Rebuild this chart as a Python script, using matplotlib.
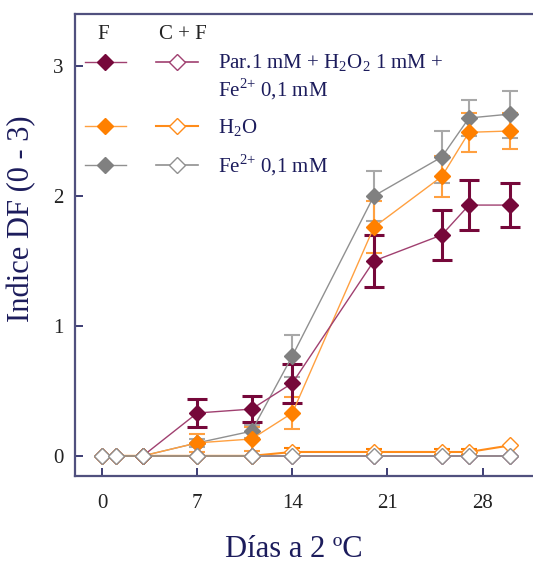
import numpy as np
import matplotlib.pyplot as plt
from matplotlib.legend_handler import HandlerTuple

plt.rcParams['font.family'] = ['Liberation Serif', 'DejaVu Serif']
plt.rcParams['mathtext.fontset'] = 'custom'
plt.rcParams['mathtext.rm'] = 'Liberation Serif'

# Days for the F series (filled) and the C + F series (open)
days_f = np.array([3, 7, 11, 14, 20, 25, 27, 30])
days_cf = np.array([0, 1, 3, 7, 11, 14, 20, 25, 27, 30])

# F series: mean and error
par_f = np.array([0, 0.33, 0.36, 0.56, 1.50, 1.70, 1.93, 1.93])
par_f_err = np.array([0, 0.11, 0.10, 0.15, 0.20, 0.19, 0.19, 0.17])
h2o_f = np.array([0, 0.10, 0.13, 0.33, 1.76, 2.15, 2.49, 2.50])
h2o_f_err = np.array([0, 0.07, 0.09, 0.12, 0.20, 0.16, 0.15, 0.14])
fe_f = np.array([0, 0.10, 0.19, 0.77, 2.00, 2.30, 2.60, 2.63])
fe_f_err = np.array([0, 0.03, 0.05, 0.16, 0.19, 0.20, 0.14, 0.18])

# C + F series
par_cf = np.array([0, 0, 0, 0, 0, 0, 0, 0, 0, 0])
h2o_cf = np.array([0, 0, 0, 0, 0, 0.03, 0.03, 0.03, 0.03, 0.08])
h2o_cf_err = np.array([0, 0, 0, 0, 0, 0.03, 0.02, 0.02, 0.02, 0])
fe_cf = np.array([0, 0, 0, 0, 0, 0, 0, 0, 0, 0])

xticks = [0, 7, 14, 21, 28]
yticks = [0, 1, 2, 3]

navy = '#1c1c5c'
spine_col = '#50507e'

# colours: (marker, line, errorbar)
par_col = ('#76083a', '#a04070', '#76083a')
h2o_col = ('#ff8000', '#ffa040', '#ffa040')
fe_col = ('#808080', '#909090', '#a8a8a8')


class RaisedTuple(HandlerTuple):
    # legend key lifted up so it sits on the first line of a two-line label
    def __init__(self, dy, **kw):
        super().__init__(**kw)
        self.dy = dy

    def create_artists(self, legend, orig_handle, xdescent, ydescent,
                       width, height, fontsize, trans):
        return super().create_artists(legend, orig_handle, xdescent,
                                      ydescent - 2 * self.dy, width, height,
                                      fontsize, trans)


def draw_filled(ax, x, y, err, cols, elw, cap):
    m = err > 0
    ax.errorbar(x[m], y[m], yerr=err[m], fmt='none', ecolor=cols[2],
                elinewidth=elw, capsize=cap, capthick=elw, zorder=2)
    h, = ax.plot(x, y, color=cols[1], lw=1, marker='D', ms=8,
                 mfc=cols[0], mec=cols[0], zorder=3)
    return h


def draw_open(ax, x, y, cols, lw=1.2):
    h, = ax.plot(x, y, color=cols[1], lw=lw, marker='D', ms=8,
                 mfc='white', mec=cols[1], mew=1, zorder=4)
    return h


fig = plt.figure(figsize=(5.33, 5.62), dpi=100)
ax = fig.add_axes([0.1407, 0.153, 0.859, 0.822])

h_fe_f = draw_filled(ax, days_f, fe_f, fe_f_err, fe_col, 1.5, 5.5)
h_h2o_f = draw_filled(ax, days_f, h2o_f, h2o_f_err, h2o_col, 1.5, 5.5)
h_par_f = draw_filled(ax, days_f, par_f, par_f_err, par_col, 2.2, 7)

h_par_cf = draw_open(ax, days_cf, par_cf, par_col)
m = h2o_cf_err > 0
ax.errorbar(days_cf[m], h2o_cf[m], yerr=h2o_cf_err[m], fmt='none',
            ecolor='#ff8000', elinewidth=1.5, capsize=6, capthick=1.5, zorder=3)
h_h2o_cf = draw_open(ax, days_cf, h2o_cf, ('#ffa040', '#ff8c1a', None), lw=1.5)
h_fe_cf = draw_open(ax, days_cf, fe_cf, fe_col)

ax.set_xlim(-2, 31.7)
ax.set_ylim(-0.155, 3.4)
ax.set_xticks(xticks)
ax.set_yticks(yticks)
ax.tick_params(direction='in', length=6, width=1.2, color=navy,
               labelsize=15, labelcolor='#222222')
ax.tick_params(axis='x', pad=13)
ax.tick_params(axis='y', pad=8)

ax.spines['right'].set_visible(False)
for s in ['left', 'bottom', 'top']:
    ax.spines[s].set_color(spine_col)
    ax.spines[s].set_linewidth(1.6)

ax.set_ylabel('Indice DF (0 - 3)', fontsize=22, color=navy, va='center')
ax.yaxis.set_label_coords(-0.116, 0.556)
ax.set_xlabel('Días a 2 ºC', fontsize=22, color=navy, va='center')
ax.xaxis.set_label_coords(0.478, -0.158)

# Legend: filled (F) and open (C + F) handles side by side
fe2 = r'Fe$^{\mathregular{2{+}}}$ 0,1 mM'
labels = [r'Par.1 mM + $\mathregular{H_2O_2}$ 1 mM +' + '\n' + fe2,
          r'$\mathregular{H_2O}$',
          fe2]
par_pair = (h_par_f, h_par_cf)
leg = ax.legend([par_pair, (h_h2o_f, h_h2o_cf), (h_fe_f, h_fe_cf)], labels,
                handler_map={par_pair: RaisedTuple(10.5, ndivide=None, pad=1.44),
                             tuple: HandlerTuple(ndivide=None, pad=1.44)},
                loc='upper left', bbox_to_anchor=(0.021, 0.918), frameon=False,
                fontsize=15, handlelength=5.43, handletextpad=0.96,
                labelspacing=0.7, borderpad=0, borderaxespad=0)
for t in leg.get_texts():
    t.set_color(navy)

ax.text(0.061, 0.955, 'F', transform=ax.transAxes, ha='center', va='center',
        fontsize=15, color='#222222')
ax.text(0.236, 0.955, 'C + F', transform=ax.transAxes, ha='center', va='center',
        fontsize=15, color='#222222')

fig.savefig('out.png', dpi=100)
